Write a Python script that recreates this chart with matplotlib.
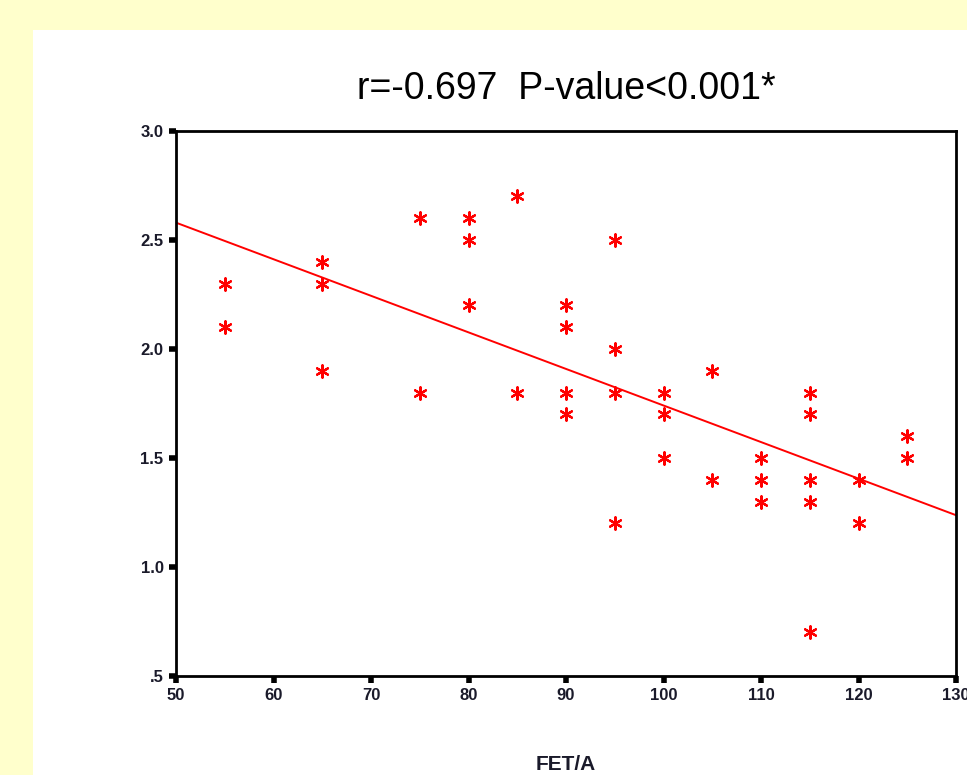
import numpy as np
import matplotlib
matplotlib.use("Agg")
import matplotlib.pyplot as plt
from matplotlib.patches import Rectangle
from matplotlib import font_manager

# Data
fet_a = [55, 55, 65, 65, 65, 75, 75, 80, 80, 80, 85, 85,
         90, 90, 90, 90, 95, 95, 95, 95, 100, 100, 100, 105, 105,
         110, 110, 110, 115, 115, 115, 115, 115, 120, 120, 125, 125]
yvals = [2.3, 2.1, 2.4, 2.3, 1.9, 2.6, 1.8, 2.6, 2.5, 2.2, 2.7, 1.8,
         2.2, 2.1, 1.8, 1.7, 2.5, 2.0, 1.8, 1.2, 1.8, 1.7, 1.5, 1.9, 1.4,
         1.5, 1.4, 1.3, 1.8, 1.7, 1.4, 1.3, 0.7, 1.4, 1.2, 1.6, 1.5]
xticks = [50, 60, 70, 80, 90, 100, 110, 120, 130]
yticks = [0.5, 1.0, 1.5, 2.0, 2.5, 3.0]
ytick_labels = [".5", "1.0", "1.5", "2.0", "2.5", "3.0"]
title = "r=-0.697  P-value<0.001*"
xlabel = "FET/A"

names = {f.name for f in font_manager.fontManager.ttflist}
fam = ["Liberation Sans Narrow"] if "Liberation Sans Narrow" in names else ["Liberation Sans"]
fam = fam + ["DejaVu Sans"]

fig = plt.figure(figsize=(9.67, 7.75), dpi=100)
fig.patch.set_facecolor("#FFFFCC")
fig.patches.append(Rectangle((33 / 967, 0), 1 - 33 / 967, (775 - 30) / 775,
                             transform=fig.transFigure, facecolor="white",
                             edgecolor="none", zorder=-5))

ax = fig.add_axes([176 / 967, 99 / 775, 780 / 967, 545 / 775])
ax.set_zorder(2)
ax.set_facecolor("white")
ax.set_xlim(50, 130)
ax.set_ylim(0.5, 3.0)

x = np.array(fet_a, dtype=float)
y = np.array(yvals, dtype=float)
slope, intercept = np.polyfit(x, y, 1)
lx = np.array([50, 130], dtype=float)
ax.plot(lx, intercept + slope * lx, color="red", lw=1.4, zorder=2)

ax.scatter(x, y, marker=(6, 2, 0), s=80, color="red", linewidths=1.6, zorder=3)

for s in ax.spines.values():
    s.set_linewidth(2)
    s.set_color("black")

ax.set_xticks(xticks)
ax.set_xticklabels([str(t) for t in xticks])
ax.set_yticks(yticks)
ax.set_yticklabels(ytick_labels)
ax.tick_params(direction="out", length=5, width=4, color="black", pad=4)
for lab in ax.get_xticklabels() + ax.get_yticklabels():
    lab.set_fontfamily(fam)
    lab.set_fontweight("bold")
    lab.set_fontsize(12)
    lab.set_color("#1a1a2a")

fig.text((176 + 956) / 2 / 967, 1 - 89 / 775, title, ha="center", va="center",
         fontsize=27, family=fam, color="black")
fig.text((176 + 956) / 2 / 967, 1 - 765 / 775, xlabel, ha="center", va="center",
         fontsize=15, family=fam, fontweight="bold", color="#1a1a2a")

fig.savefig("out.png", dpi=100, facecolor=fig.get_facecolor())
